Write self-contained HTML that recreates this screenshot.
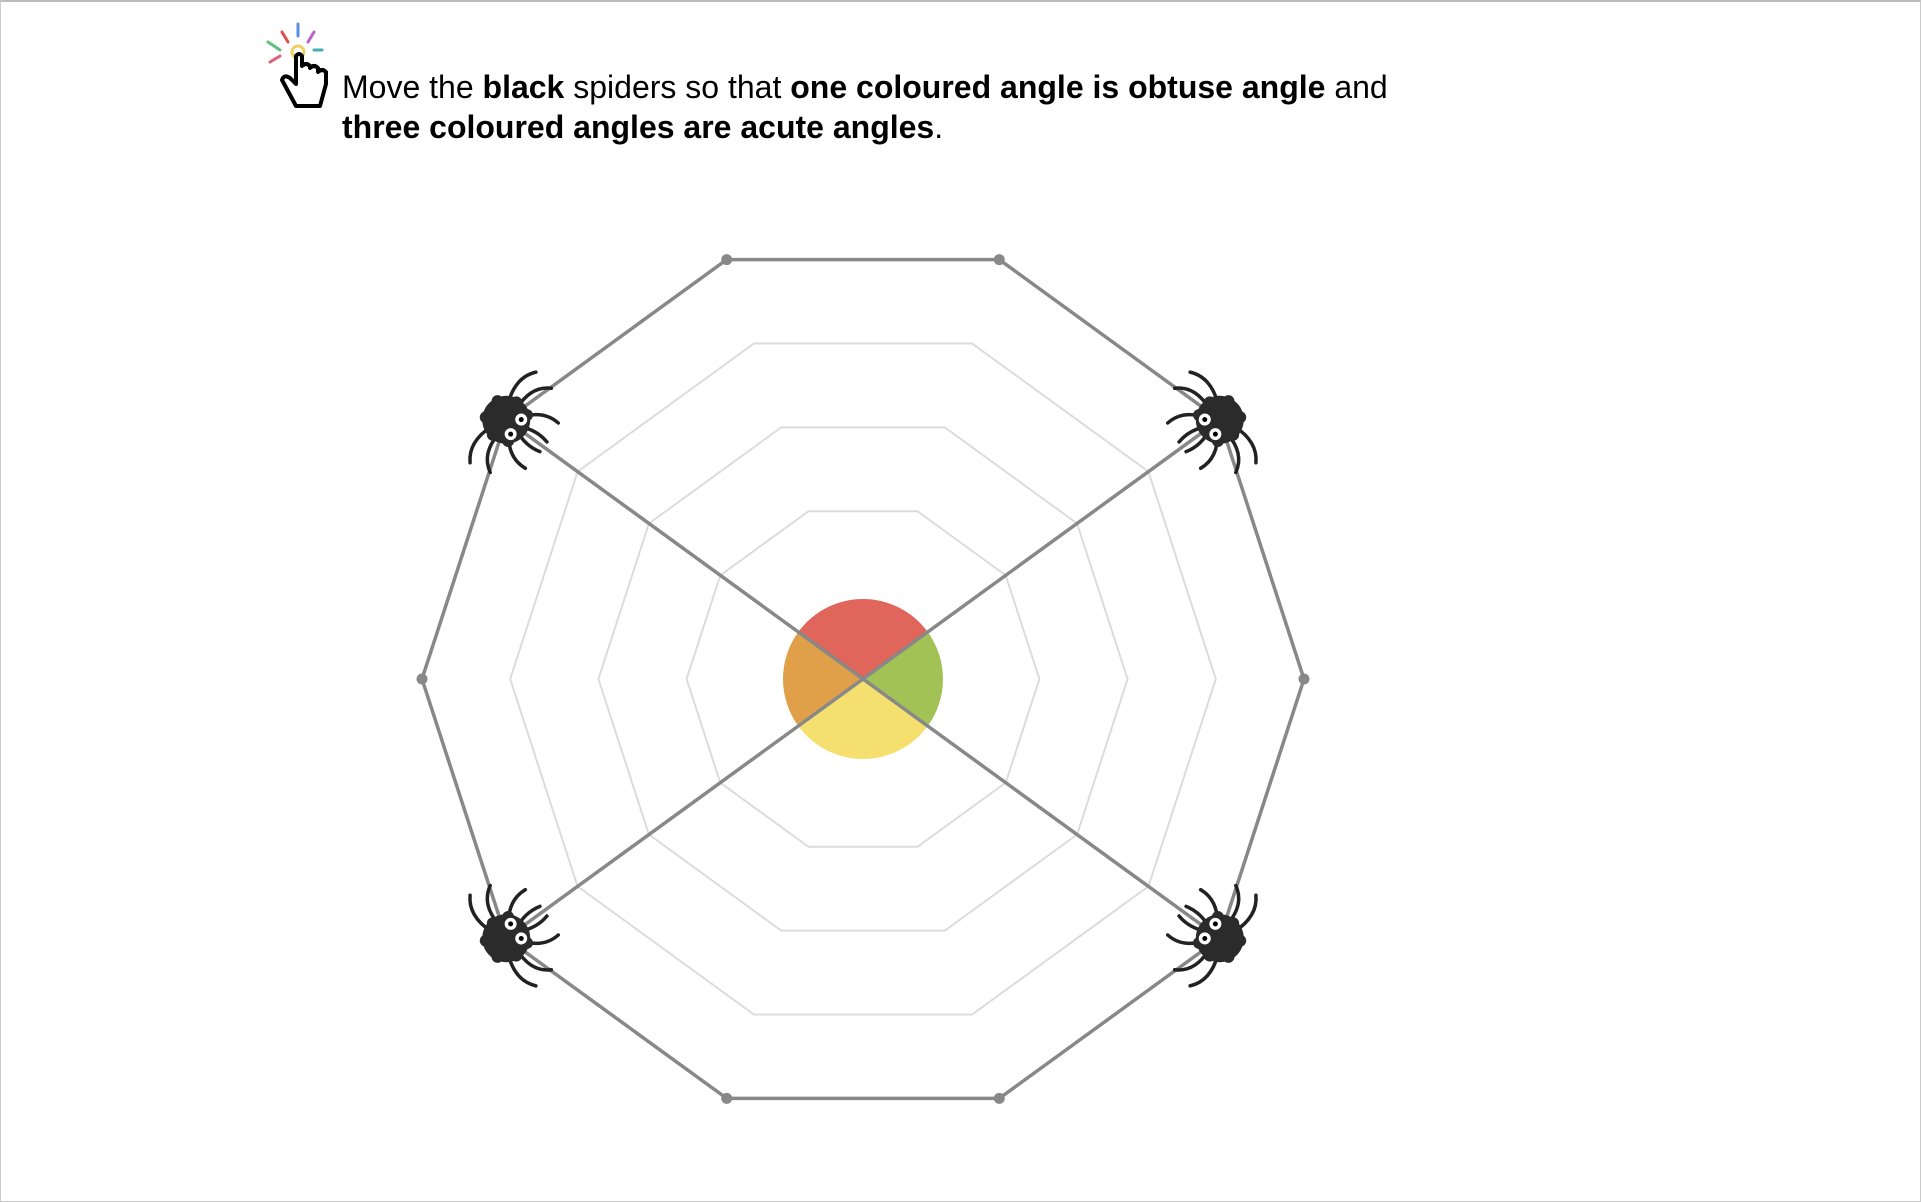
<!DOCTYPE html>
<html><head><meta charset="utf-8"><style>
html,body{margin:0;padding:0;background:#fff;}
body{width:1922px;height:1202px;position:relative;overflow:hidden;font-family:"Liberation Sans",sans-serif;}
#frame{position:absolute;left:0;top:0;width:1919px;height:1199px;border:1px solid #ccc;border-top:2px solid #bbb;}
#instr{position:absolute;left:342px;top:67px;font-size:32px;line-height:40px;color:#000;white-space:nowrap;}
#icon{position:absolute;left:262px;top:22px;}
svg#chart{position:absolute;left:0;top:0;}
</style></head><body>
<div id="frame"></div>
<svg id="icon" width="72" height="90" viewBox="0 0 72 90">
<g stroke-width="3" stroke-linecap="round">
<line x1="36" y1="2" x2="36" y2="14" stroke="#5b8fe0"/><line x1="52" y1="10" x2="46" y2="20" stroke="#c060d0"/>
<line x1="20" y1="10" x2="26" y2="20" stroke="#e05050"/><line x1="6" y1="20" x2="18" y2="28" stroke="#60c080"/>
<line x1="60" y1="28" x2="52" y2="28" stroke="#40b0b0"/><line x1="8" y1="40" x2="18" y2="34" stroke="#e06080"/></g>
<circle cx="36" cy="30" r="6" fill="none" stroke="#f0d060" stroke-width="3"/>
<path d="M34 34 L34 62 L28 56 Q22 52 20 58 L34 84 L58 84 L64 62 L64 50 Q60 46 56 50 L56 46 Q52 42 48 46 L48 44 Q44 40 40 44 L40 34 Q37 30 34 34 Z" fill="#fff" stroke="#000" stroke-width="4" stroke-linejoin="round"/>
</svg>
<div id="instr">Move the <b>black</b> spiders so that <b>one coloured angle is obtuse angle</b> and<br><b>three coloured angles are acute angles</b>.</div>
<svg id="chart" width="1922" height="1202"></svg>
<script>
const spiderAngles=[36,144,216,324];
const ringLevels=[0.4,0.6,0.8];
const sectorColors=["#a3c255","#e0655a","#e0a04a","#f5df6e"];
const CX=863,CY=679,R=441,CR=80;
const NS="http://www.w3.org/2000/svg";
const svg=document.getElementById('chart');
function pt(a,r){const t=a*Math.PI/180;return [CX+r*Math.cos(t),CY-r*Math.sin(t)];}
function mk(tag,attrs){const e=document.createElementNS(NS,tag);for(const k in attrs)e.setAttribute(k,attrs[k]);svg.appendChild(e);return e;}
const verts=[];for(let i=0;i<10;i++)verts.push(i*36);
ringLevels.forEach(l=>{
  const p=mk('polygon',{points:verts.map(a=>pt(a,R*l).join(',')).join(' '),fill:'none',stroke:'#dcdcdc','stroke-width':2});
  
  
});
const sorted=[...spiderAngles].sort((a,b)=>a-b);
for(let i=0;i<sorted.length;i++){
  const a0=sorted[i],a1=i+1<sorted.length?sorted[i+1]:sorted[0]+360;
  const p0=pt(a0,CR),p1=pt(a1,CR);const large=(a1-a0)>180?1:0;
  const s=mk('path',{d:`M${CX},${CY} L${p0[0]},${p0[1]} A${CR},${CR} 0 ${large} 0 ${p1[0]},${p1[1]} Z`,fill:sectorColors[(i+1)%4]});
  
  
}
const outerAngles=verts.filter(a=>!spiderAngles.some(s=>Math.abs(s-a)<18)).concat(spiderAngles).sort((a,b)=>a-b);
const op=mk('polygon',{points:outerAngles.map(a=>pt(a,R).join(',')).join(' '),fill:'none',stroke:'#888','stroke-width':3.5});


spiderAngles.forEach(a=>{const p=pt(a,R);
  const l=mk('line',{x1:CX,y1:CY,x2:p[0],y2:p[1],stroke:'#888','stroke-width':3.5});
  
  
});
outerAngles.filter(a=>!spiderAngles.includes(a)).forEach(a=>{const p=pt(a,R);
  const c=mk('circle',{cx:p[0],cy:p[1],r:5.5,fill:'#888'});
  
  
});
spiderAngles.forEach(a=>{const p=pt(a,R);
  const g=mk('g',{transform:`translate(${p[0]},${p[1]}) rotate(${-a+180})`});
  
  
  const legPaths=["M-8,-14 Q-18,-40 -4,-56","M2,-16 Q0,-42 18,-52","M10,-10 Q24,-30 44,-28","M14,-2 Q30,-10 46,-6",
                  "M-8,14 Q-18,40 -4,56","M2,16 Q0,42 18,52","M10,10 Q24,30 44,28","M14,2 Q30,10 46,6"];
  g.innerHTML=legPaths.map(d=>`<path d="${d}" fill="none" stroke="#222" stroke-width="3.5" stroke-linecap="round"/>`).join('')+
   `<circle r="24" fill="#2b2b2b"/>`+
   `<circle cx="-2" cy="-20" r="6" fill="#2b2b2b"/><circle cx="-18" cy="-10" r="6" fill="#2b2b2b"/><circle cx="-18" cy="10" r="6" fill="#2b2b2b"/><circle cx="-2" cy="20" r="6" fill="#2b2b2b"/><circle cx="14" cy="-16" r="6" fill="#2b2b2b"/><circle cx="14" cy="16" r="6" fill="#2b2b2b"/>`+
   `<circle cx="12" cy="-9" r="6" fill="#fff"/><circle cx="12" cy="-9" r="2.5" fill="#000"/>`+
   `<circle cx="12" cy="9" r="6" fill="#fff"/><circle cx="12" cy="9" r="2.5" fill="#000"/>`;
});
</script>
</body></html>
